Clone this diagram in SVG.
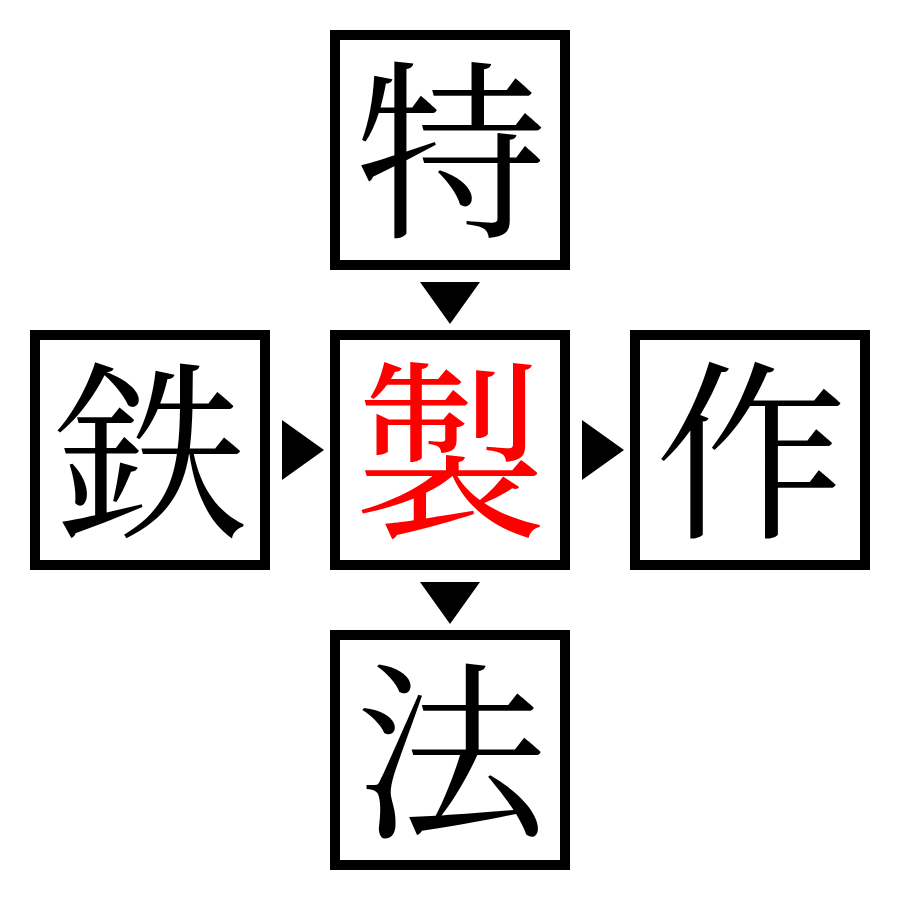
<svg xmlns="http://www.w3.org/2000/svg" width="900" height="900" viewBox="0 0 900 900">
<style>
.box{fill:#fff;stroke:#000;stroke-width:10}
.t{font-family:"Noto Serif CJK JP","Noto Sans CJK JP","Noto Sans CJK SC",serif;font-size:192px;text-anchor:middle}
.arr{fill:#000}
</style>
<rect width="900" height="900" fill="#fff"/>
<g id="n-toku"><rect class="box" x="335" y="35" width="230" height="230"/><text class="t" x="451" y="223">特</text></g>
<g id="n-tetsu"><rect class="box" x="35" y="335" width="230" height="230"/><text class="t" x="151" y="523">鉄</text></g>
<g id="n-sei"><rect class="box" x="335" y="335" width="230" height="230"/><text class="t" x="451" y="523" fill="#f00">製</text></g>
<g id="n-saku"><rect class="box" x="635" y="335" width="230" height="230"/><text class="t" x="751" y="523">作</text></g>
<g id="n-hou"><rect class="box" x="335" y="635" width="230" height="230"/><text class="t" x="451" y="823">法</text></g>
<g id="connectors">
<polygon class="arr" points="420,282 480,282 450,324"/>
<polygon class="arr" points="420,582 480,582 450,624"/>
<polygon class="arr" points="282,420 282,480 324,450"/>
<polygon class="arr" points="582,420 582,480 624,450"/>
</g>
</svg>
